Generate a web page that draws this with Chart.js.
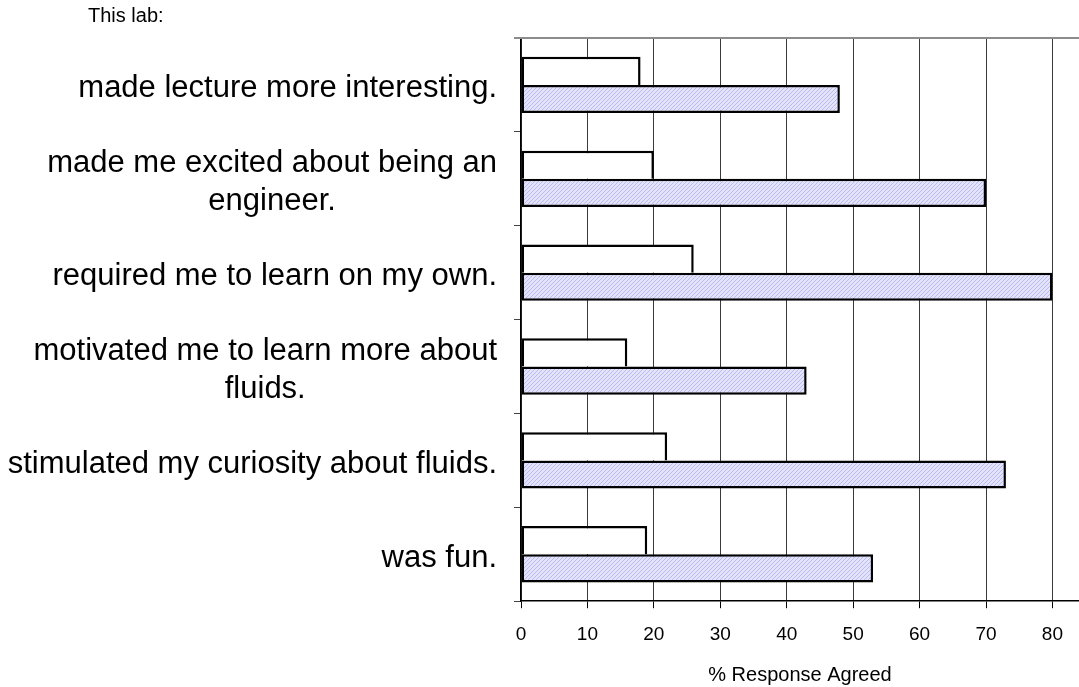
<!DOCTYPE html>
<html>
<head>
<meta charset="utf-8">
<title>This lab: survey responses</title>
<script src="https://cdn.jsdelivr.net/npm/chart.js@4/dist/chart.umd.min.js"></script>
<style>
  html, body { margin: 0; padding: 0; background: #fff; }
  canvas { display: block; }
</style>
</head>
<body>
<canvas id="chart" width="1079" height="687"></canvas>
<script>
// Survey statements (top to bottom); multi-line entries are wrapped labels.
const categories = [
  "made lecture more interesting.",
  ["made me excited about being an", "engineer."],
  "required me to learn on my own.",
  ["motivated me to learn more about", "fluids."],
  "stimulated my curiosity about fluids.",
  "was fun."
];
// Percent of responses agreeing, two groups
const plainValues = [18, 20, 26, 16, 22, 19];
const hatchedValues = [48, 70, 80, 43, 73, 53];
const xTickValues = [0, 10, 20, 30, 40, 50, 60, 70, 80];
const headerText = "This lab:";
const xTitle = "% Response Agreed";

const FONT = "'Liberation Sans', Arial, sans-serif";

// Lavender diagonal hatch fill
function makeHatch() {
  const c = document.createElement('canvas');
  c.width = 4; c.height = 4;
  const g = c.getContext('2d');
  g.fillStyle = '#e3e3fc';
  g.fillRect(0, 0, 4, 4);
  g.fillStyle = '#babaee';
  for (let i = 0; i < 4; i++) g.fillRect(3 - i, i, 1, 1);
  return g.createPattern(c, 'repeat');
}

// Category labels: each block right-aligned to the axis, lines centred inside the block
const labelPlugin = {
  id: 'blockLabels',
  afterDraw(chart) {
    const ctx = chart.ctx;
    const y = chart.scales.y;
    const area = chart.chartArea;
    ctx.save();
    // top edge of the plot area
    ctx.strokeStyle = '#8c8c8c';
    ctx.lineWidth = 2;
    ctx.beginPath();
    ctx.moveTo(area.left - 7, area.top);
    ctx.lineTo(area.right, area.top);
    ctx.stroke();

    ctx.fillStyle = '#000';
    ctx.font = '31px ' + FONT;
    ctx.textBaseline = 'middle';
    ctx.textAlign = 'center';
    const rightEdge = area.left - 24;
    const lineH = 38;
    categories.forEach((lab, i) => {
      const lines = Array.isArray(lab) ? lab : [lab];
      const w = Math.max(...lines.map(l => ctx.measureText(l).width));
      const cx = rightEdge - w / 2;
      const cy = y.getPixelForTick(i) + 4;
      const y0 = cy - (lines.length - 1) * lineH / 2;
      lines.forEach((l, k) => ctx.fillText(l, cx, y0 + k * lineH));
    });

    ctx.font = '20px ' + FONT;
    ctx.textAlign = 'left';
    ctx.fillText(headerText, 88, 16);
    ctx.restore();
  }
};

new Chart(document.getElementById('chart'), {
  type: 'bar',
  data: {
    labels: categories,
    datasets: [
      {
        data: plainValues,
        backgroundColor: '#ffffff',
        borderColor: '#000000',
        borderWidth: { top: 2.5, left: 2.5, right: 2.5, bottom: 0 },
        borderSkipped: false
      },
      {
        data: hatchedValues,
        backgroundColor: makeHatch(),
        borderColor: '#000000',
        borderWidth: 2.5,
        borderSkipped: false
      }
    ]
  },
  options: {
    indexAxis: 'y',
    responsive: false,
    animation: false,
    layout: { padding: { top: 38, right: 0, left: 0, bottom: 0 } },
    datasets: { bar: { categoryPercentage: 0.6, barPercentage: 1.0 } },
    plugins: {
      legend: { display: false },
      tooltip: { enabled: false },
      title: { display: false }
    },
    scales: {
      x: {
        type: 'linear',
        min: 0,
        max: 84,
        afterBuildTicks(scale) {
          scale.ticks = xTickValues.map(v => ({ value: v }));
        },
        grid: {
          color: '#3a3a3a',
          lineWidth: 1,
          tickLength: 7,
          tickColor: '#000'
        },
        border: { color: '#000', width: 1.5 },
        ticks: {
          color: '#000',
          font: { family: FONT, size: 19 },
          padding: 15,
          maxRotation: 0
        },
        title: {
          display: true,
          text: xTitle,
          color: '#000',
          font: { family: FONT, size: 20 },
          padding: { top: 2, bottom: 0 }
        }
      },
      y: {
        type: 'category',
        afterFit(scale) { scale.width = 521; },
        grid: {
          offset: true,
          drawOnChartArea: false,
          drawTicks: true,
          tickLength: 7,
          tickColor: '#444'
        },
        border: { color: '#000', width: 1.5 },
        ticks: { display: false }
      }
    }
  },
  plugins: [labelPlugin]
});
</script>
</body>
</html>
